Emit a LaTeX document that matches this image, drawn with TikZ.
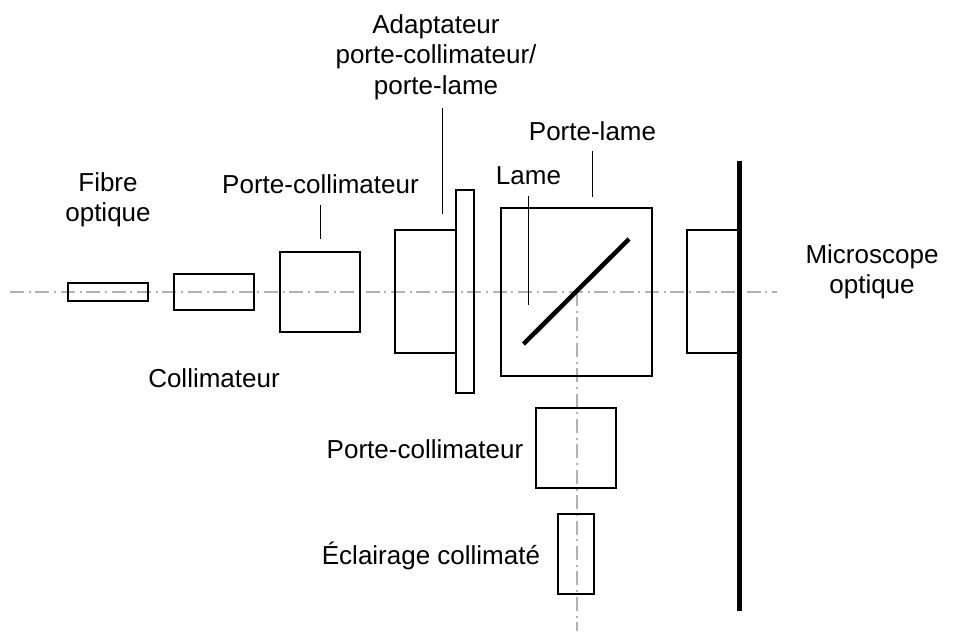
\documentclass[tikz,border=0pt]{standalone}
\usepackage{fontspec}
\setmainfont{Liberation Sans}
\tikzset{
  part/.style={draw=black,line width=2pt,inner sep=0pt,outer sep=0pt,anchor=north west},
  lbl/.style={align=center,font=\fontsize{26}{30.5}\selectfont,inner sep=0pt,text=black},
  axisline/.style={draw=black!30,line width=2pt,dash pattern=on 14pt off 4.7pt on 2pt off 4.7pt},
  leader/.style={draw=black,line width=1.3pt},
  thick part/.style={draw=black,line width=4.5pt}
}
\begin{document}
\begin{tikzpicture}[x=1pt,y=-1pt]
\useasboundingbox (0,0) rectangle (976,635);
\coordinate (hl) at (10,292);
\coordinate (hr) at (777,292);
\coordinate (vt) at (576.5,292);
\coordinate (vb) at (576.5,631);
\draw[axisline] (hl) -- (hr);
\draw[axisline] (vt) -- (vb);
\node[part,minimum width=80pt,minimum height=18pt] (fibre) at (68,283) {};
\node[part,minimum width=80pt,minimum height=36pt] (coll) at (174,274) {};
\node[part,minimum width=80pt,minimum height=79.5pt] (pc) at (280,252) {};
\node[part,minimum width=60.5pt,minimum height=123pt] (adapt) at (395,230) {};
\node[part,minimum width=17.5pt,minimum height=203pt] (plate) at (456,190) {};
\node[part,minimum width=151pt,minimum height=168pt] (pl) at (501,208) {};
\node[part,minimum width=52pt,minimum height=123pt] (obj) at (687,230) {};
\node[part,minimum width=80pt,minimum height=80pt] (pc2) at (536,408) {};
\node[part,minimum width=36pt,minimum height=80pt] (ecl) at (558,514) {};
\coordinate (mt) at (739.5,161);
\coordinate (mb) at (739.5,611);
\draw[thick part] (mt) -- (mb);
\coordinate (la) at (523.5,344);
\coordinate (lb) at (629,239);
\draw[thick part] (la) -- (lb);
\node[lbl] (tfibre) at (108,200) {Fibre\\optique};
\node[lbl] (tpc) at (320.5,184) {Porte-collimateur};
\node[lbl] (tcoll) at (214,378) {Collimateur};
\node[lbl] (tadapt) at (436,57) {Adaptateur\\porte-collimateur/\\porte-lame};
\node[lbl] (tlame) at (528.5,176) {Lame};
\node[lbl] (tpl) at (592.5,131) {Porte-lame};
\node[lbl] (tmic) at (872,272) {Microscope\\optique};
\node[lbl] (tpc2) at (425,449) {Porte-collimateur};
\node[lbl] (tecl) at (431,556) {Éclairage collimaté};
\coordinate (a1) at (320.5,205); \coordinate (a2) at (320.5,238.5);
\coordinate (b1) at (442.5,108); \coordinate (b2) at (442.5,213.5);
\coordinate (c1) at (528.5,196); \coordinate (c2) at (528.5,305);
\coordinate (d1) at (592.5,151); \coordinate (d2) at (592.5,196.5);
\draw[leader] (a1) -- (a2);
\draw[leader] (b1) -- (b2);
\draw[leader] (c1) -- (c2);
\draw[leader] (d1) -- (d2);
\end{tikzpicture}
\end{document}
